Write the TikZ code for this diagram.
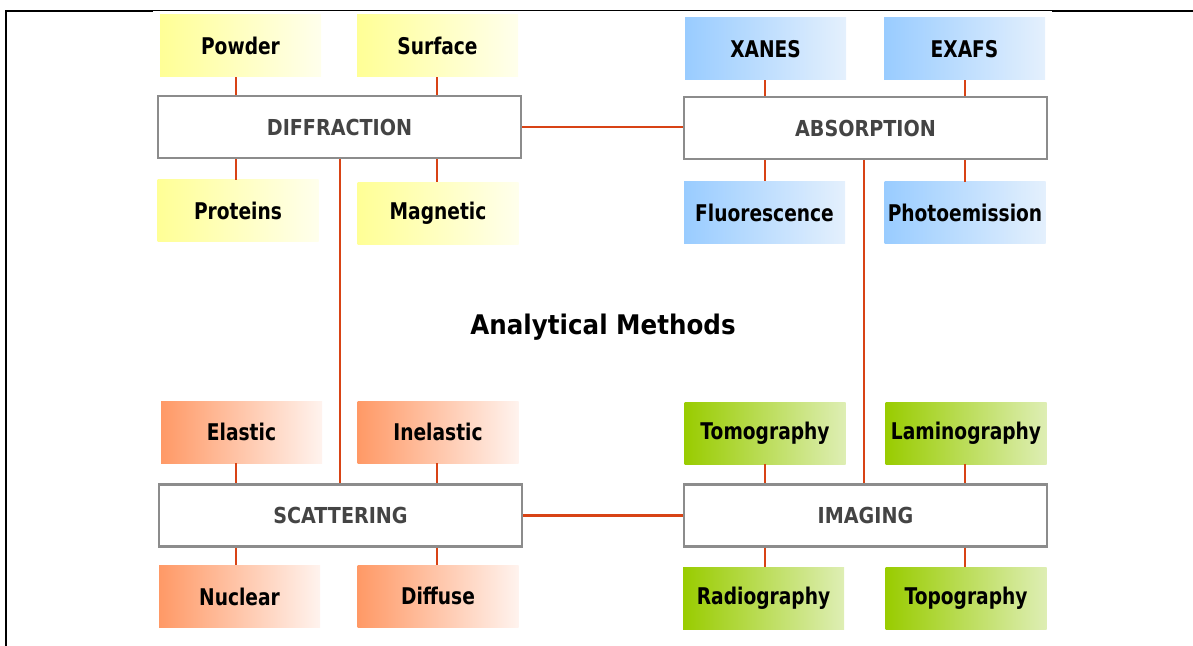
\documentclass[tikz,border=0pt]{standalone}
\usepackage{fontspec}
\newfontfamily\labfont[FakeStretch=0.81]{DejaVu Sans}
\newfontfamily\headfont[FakeStretch=0.87]{DejaVu Sans}
\newfontfamily\titfont[FakeStretch=0.91]{DejaVu Sans}
\definecolor{connc}{RGB}{216,67,21}
\definecolor{boxgray}{RGB}{140,140,140}
\definecolor{headtext}{RGB}{68,68,68}
\definecolor{yelL}{RGB}{255,255,150}
\definecolor{yelR}{RGB}{255,255,236}
\definecolor{bluL}{RGB}{153,204,255}
\definecolor{bluR}{RGB}{228,240,253}
\definecolor{oraL}{RGB}{255,153,102}
\definecolor{oraR}{RGB}{255,243,238}
\definecolor{greL}{RGB}{153,204,0}
\definecolor{greM}{RGB}{200,226,140}
\definecolor{greR}{RGB}{222,238,180}
\tikzset{
  subbox/.style={rectangle, minimum width=80.5pt, minimum height=31pt, inner sep=0pt,
    font=\labfont\bfseries\fontsize{11.5}{13}\selectfont, text=black},
  yelbox/.style={subbox, left color=yelL, right color=yelR},
  blubox/.style={subbox, left color=bluL, right color=bluR},
  orabox/.style={subbox, left color=oraL, right color=oraR},
  grebox/.style={subbox, left color=greL, middle color=greM, right color=greR},
  headbox/.style={rectangle, draw=boxgray, line width=1.2pt, fill=white,
    minimum width=181.5pt, minimum height=31pt, inner sep=0pt,
    font=\headfont\bfseries\fontsize{11}{13}\selectfont, text=headtext},
  conn/.style={draw=connc, line width=1.1pt},
  framethick/.style={line width=1.2pt, black},
  framethin/.style={line width=0.6pt, black}
}
\begin{document}
\begin{tikzpicture}[x=0.5pt,y=-0.5pt]
\useasboundingbox (0,0) rectangle (1193,646);
% frame
\draw[framethick] (6,646) -- (6,11) -- (153,11);
\draw[framethin] (153,10.8) -- (1052,10.8);
\draw[framethick] (1052,11) -- (1193,11);
% column coordinates
\coordinate (cA) at (236,0);
\coordinate (cB) at (437,0);
\coordinate (cC) at (340,0);
\coordinate (cD) at (765,0);
\coordinate (cE) at (965,0);
\coordinate (cF) at (864,0);
% header boxes
\node[headbox] (diff) at (339.5,127) {DIFFRACTION};
\node[headbox] (abs) at (865.5,128) {ABSORPTION};
\node[headbox] (scat) at (340.5,515.5) {SCATTERING};
\node[headbox] (imag) at (865.5,515.5) {IMAGING};
% sub boxes
\node[yelbox] (powder) at (240.5,46) {Powder};
\node[yelbox] (surface) at (437.5,46) {Surface};
\node[yelbox] (proteins) at (238,211) {Proteins};
\node[yelbox] (magnetic) at (438,213.5) {Magnetic};
\node[blubox] (xanes) at (765.5,49) {XANES};
\node[blubox] (exafs) at (964.5,49) {EXAFS};
\node[blubox] (fluor) at (764.5,212.5) {Fluorescence};
\node[blubox] (photo) at (965,213) {Photoemission};
\node[orabox] (elastic) at (241.5,432) {Elastic};
\node[orabox] (inelastic) at (438,432) {Inelastic};
\node[orabox] (nuclear) at (239.5,596.5) {Nuclear};
\node[orabox] (diffuse) at (438,596) {Diffuse};
\node[grebox] (tomo) at (765,433) {Tomography};
\node[grebox] (lamino) at (966,433) {Laminography};
\node[grebox] (radio) at (763.5,598) {Radiography};
\node[grebox] (topo) at (966,598.5) {Topography};
% title
\node[font=\titfont\bfseries\fontsize{13.5}{15}\selectfont, text=black] (title) at (603,327) {Analytical Methods};
% connectors
\draw[conn] (diff.east) -- (abs.west |- diff.east);
\draw[conn] (scat.east) -- (imag.west |- scat.east);
\draw[conn] (diff.south -| cC) -- (scat.north -| cC);
\draw[conn] (abs.south -| cF) -- (imag.north -| cF);
\draw[conn] (powder.south -| cA) -- (diff.north -| cA);
\draw[conn] (surface.south -| cB) -- (diff.north -| cB);
\draw[conn] (diff.south -| cA) -- (proteins.north -| cA);
\draw[conn] (diff.south -| cB) -- (magnetic.north -| cB);
\draw[conn] (xanes.south -| cD) -- (abs.north -| cD);
\draw[conn] (exafs.south -| cE) -- (abs.north -| cE);
\draw[conn] (abs.south -| cD) -- (fluor.north -| cD);
\draw[conn] (abs.south -| cE) -- (photo.north -| cE);
\draw[conn] (elastic.south -| cA) -- (scat.north -| cA);
\draw[conn] (inelastic.south -| cB) -- (scat.north -| cB);
\draw[conn] (scat.south -| cA) -- (nuclear.north -| cA);
\draw[conn] (scat.south -| cB) -- (diffuse.north -| cB);
\draw[conn] (tomo.south -| cD) -- (imag.north -| cD);
\draw[conn] (lamino.south -| cE) -- (imag.north -| cE);
\draw[conn] (imag.south -| cD) -- (radio.north -| cD);
\draw[conn] (imag.south -| cE) -- (topo.north -| cE);
\end{tikzpicture}
\end{document}
